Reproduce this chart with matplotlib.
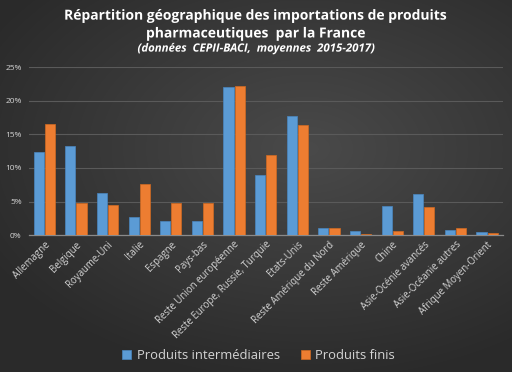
import matplotlib.pyplot as plt
import matplotlib.patheffects as pe
from matplotlib.colors import LinearSegmentedColormap
import numpy as np

plt.rcParams['font.family'] = ['Open Sans', 'DejaVu Sans']

# Data (share of French pharmaceutical imports, %)
categories = ['Allemagne', 'Belgique', 'Royaume-Uni', 'Italie', 'Espagne', 'Pays-bas',
              'Reste Union européenne', 'Reste Europe, Russie, Turquie', 'Etats-Unis',
              'Reste Amérique du Nord', 'Reste Amérique', 'Chine',
              'Asie-Océnie avancés', 'Asie-Océanie autres', 'Afrique Moyen-Orient']
intermediaires = [12.4, 13.3, 6.2, 2.7, 2.1, 2.1, 22.0, 9.0, 17.7, 1.0, 0.55, 4.4, 6.1, 0.75, 0.45]
finis = [16.6, 4.8, 4.5, 7.6, 4.8, 4.8, 22.2, 11.9, 16.4, 1.0, 0.2, 0.6, 4.2, 1.0, 0.3]
yticks = [0, 5, 10, 15, 20, 25]

BLUE = '#5b9bd5'
ORANGE = '#ed7d31'
TXT = '#d4d4d4'

fig = plt.figure(figsize=(5.12, 3.72), dpi=100)

# radial dark background
bg = fig.add_axes([0, 0, 1, 1], zorder=-10)
yy, xx = np.mgrid[0:1:372j, 0:1:512j]
r = np.sqrt(((xx - 0.6) / 0.9) ** 2 + ((yy - 0.4) / 0.8) ** 2)
cmap = LinearSegmentedColormap.from_list('bg', ['#4a4a4a', '#2a2a2a'])
bg.imshow(r, cmap=cmap, aspect='auto', extent=[0, 1, 0, 1], vmin=0, vmax=0.8)
bg.axis('off')

ax = fig.add_axes([0.0557, 0.368, 0.9265, 0.451])
ax.patch.set_visible(False)

x = np.arange(len(categories))
w = 0.32
ax.bar(x - 0.175, intermediaires, w, color=BLUE, edgecolor='#4a86bf', linewidth=0.5,
       label='Produits intermédiaires', zorder=3)
ax.bar(x + 0.175, finis, w, color=ORANGE, edgecolor='#d06a22', linewidth=0.5,
       label='Produits finis', zorder=3)

ax.set_xlim(-0.5, len(categories) - 0.5)
ax.set_ylim(0, 25)
ax.set_yticks(yticks)
ax.set_yticklabels(['%d%%' % v for v in yticks], fontsize=6, color=TXT)
ax.yaxis.grid(True, color='#5a5a5a', linewidth=0.8, zorder=0)
ax.tick_params(axis='y', length=0, pad=5)
ax.tick_params(axis='x', length=0, pad=3)
ax.set_xticks(x)
ax.set_xticklabels(categories, rotation=45, ha='right', rotation_mode='anchor',
                   fontsize=6.9, color=TXT)
for s in ['top', 'right', 'left']:
    ax.spines[s].set_visible(False)
ax.spines['bottom'].set_color('#8a8a8a')
ax.spines['bottom'].set_linewidth(0.9)

shadow = [pe.SimpleLineShadow(offset=(0.8, -0.8), shadow_color='black', alpha=0.7),
          pe.Normal()]
fig.text(0.5, 0.958, 'Répartition géographique des importations de produits',
         ha='center', va='center', fontsize=10, fontweight='bold', color='white',
         path_effects=shadow)
fig.text(0.5, 0.91, 'pharmaceutiques  par la France',
         ha='center', va='center', fontsize=10, fontweight='bold', color='white',
         path_effects=shadow)
fig.text(0.5, 0.868, '(données  CEPII-BACI,  moyennes  2015-2017)',
         ha='center', va='center', fontsize=8.2, fontweight='bold', fontstyle='italic',
         color='white', path_effects=shadow)

fig.legend(loc='center', bbox_to_anchor=(0.505, 0.045), ncol=2, frameon=False,
           fontsize=9.4, labelcolor=TXT, handlelength=0.7, handleheight=0.7,
           handletextpad=0.4, columnspacing=1.6)

fig.savefig('out.png', dpi=100, facecolor='#333333')
